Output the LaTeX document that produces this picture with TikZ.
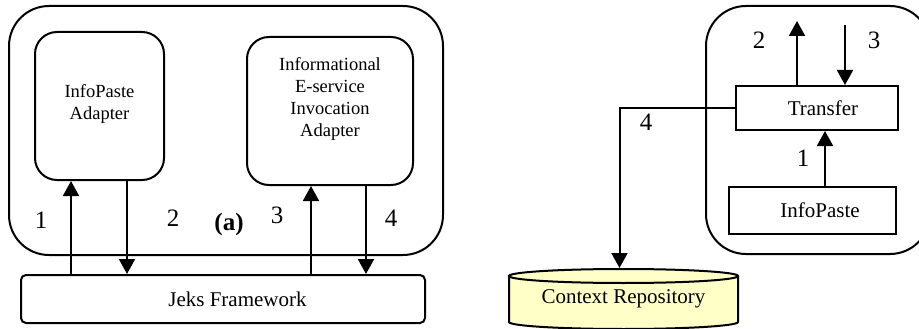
\documentclass[tikz,border=0pt]{standalone}
\usepackage{fontspec}
\setmainfont{Liberation Serif}
\usetikzlibrary{arrows.meta,calc}
\definecolor{repofill}{RGB}{255,255,200}
\begin{document}
\begin{tikzpicture}[x=1pt,y=-1pt,line width=2pt,
  arr/.style={-{Triangle[width=16pt,length=15pt]}},
  frame/.style={draw,rounded corners=40pt,inner sep=0pt},
  adapter/.style={draw,rounded corners=22pt,inner sep=0pt},
  smalltext/.style={align=center,inner sep=0pt,font=\fontsize{18.5}{22}\selectfont},
  plainbox/.style={draw,inner sep=0pt,font=\fontsize{21}{25}\selectfont},
  lbl/.style={inner sep=0pt,font=\fontsize{25}{30}\selectfont}]

\useasboundingbox (0,0) rectangle (919,329);

% ---------- left part: adapters on the Jeks framework ----------
\node[frame,minimum width=434pt,minimum height=249pt] (outerA) at (226,130.5) {};
\node[adapter,minimum width=129pt,minimum height=148pt] (ipa) at (99.5,106) {};
\node[smalltext] (ipatext) at (99.5,104) {InfoPaste\\Adapter};
\node[adapter,minimum width=166pt,minimum height=148pt] (iei) at (330,111) {};
\node[smalltext] (ieitext) at (330,99) {Informational\\E-service\\Invocation\\Adapter};
\node[plainbox,rounded corners=5pt,minimum width=404pt,minimum height=48pt] (jeks) at (223,299)
  {\hspace*{29pt}Jeks Framework};

\coordinate (a1) at ([xshift=-28.5pt]ipa.south);
\coordinate (a2) at ([xshift=27.5pt]ipa.south);
\coordinate (a3) at ([xshift=-19pt]iei.south);
\coordinate (a4) at ([xshift=36pt]iei.south);
\draw[arr] (a1 |- jeks.north) -- (a1);
\draw[arr] (a2) -- (a2 |- jeks.north);
\draw[arr] (a3 |- jeks.north) -- (a3);
\draw[arr] (a4) -- (a4 |- jeks.north);

\node[lbl] (l1) at (41,220) {1};
\node[lbl] (l2) at (173,218) {2};
\node[lbl,font=\fontsize{25}{30}\selectfont\bfseries] (la) at (229,224) {(a)};
\node[lbl] (l3) at (277,215) {3};
\node[lbl] (l4) at (391,218) {4};

% ---------- right part: transfer to the context repository ----------
\node[frame,minimum width=224pt,minimum height=248pt] (outerB) at (818,130) {};
\node[plainbox,minimum width=162pt,minimum height=44pt] (transfer) at (817,108) {\hspace*{12pt}Transfer};
\node[plainbox,minimum width=167pt,minimum height=47pt] (infopaste) at (812.5,210.5) {\hspace*{15pt}InfoPaste};

% repository drawn as a cylinder
\fill[repofill] (509,276) rectangle (738,322);
\fill[repofill] (623.5,322) ellipse [x radius=114.5,y radius=7];
\draw (509,276) -- (509,322) arc[start angle=180,end angle=0,x radius=114.5,y radius=7] -- (738,276);
\draw[fill=repofill] (623.5,276) ellipse [x radius=114.5,y radius=7];
\node[inner sep=0pt,minimum width=229pt,minimum height=60pt,font=\fontsize{21}{25}\selectfont]
  (repo) at (623.5,299) {\raisebox{-3pt}{Context Repository}};

\coordinate (up2) at (797,21);
\coordinate (dn3) at (845,25);
\coordinate (r1) at ([xshift=12.5pt]infopaste.north);
\draw[arr] (r1) -- (r1 |- transfer.south);
\draw[arr] (up2 |- transfer.north) -- (up2);
\draw[arr] (dn3) -- (dn3 |- transfer.north);
\draw[arr] (transfer.west) -| ([xshift=-4pt]repo.north);

\node[lbl] (r2) at (759,40) {2};
\node[lbl] (r3) at (874,40) {3};
\node[lbl] (r1l) at (803,158) {1};
\node[lbl] (r4) at (646,122) {4};
\end{tikzpicture}
\end{document}
